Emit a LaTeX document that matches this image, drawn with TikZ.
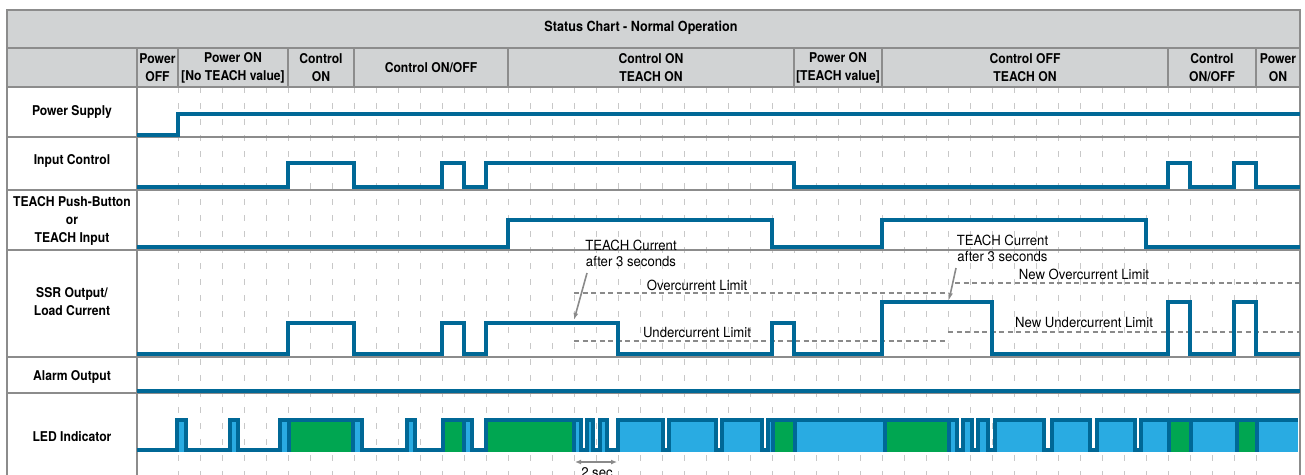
\documentclass[tikz,border=0pt]{standalone}
\usepackage{fontspec}
\setmainfont{TeX Gyre Heros}[FakeStretch=0.9]
\newfontfamily\notefont{TeX Gyre Heros}[FakeStretch=0.94]
\usetikzlibrary{arrows.meta}

\definecolor{sigblue}{RGB}{0,104,150}
\definecolor{ledblue}{RGB}{41,171,226}
\definecolor{ledgreen}{RGB}{0,166,81}
\definecolor{hdgray}{RGB}{209,211,212}
\definecolor{rulegray}{RGB}{140,140,140}
\definecolor{gridgray}{RGB}{200,200,200}
\definecolor{notegray}{RGB}{138,138,138}

\begin{document}
\begin{tikzpicture}[x=1pt,y=-1pt,
    sig/.style={draw=sigblue, line width=4pt},
    rule/.style={draw=rulegray, line width=1.5pt},
    gridline/.style={draw=gridgray, line width=1pt, dash pattern=on 6pt off 10pt},
    limit/.style={draw=notegray, line width=1.8pt, dash pattern=on 5pt off 3.5pt},
    note/.style={font=\notefont\fontsize{14}{15.5}\selectfont, align=center, inner sep=0pt},
    hdr/.style={font=\bfseries\fontsize{13.5}{18}\selectfont, align=center, inner sep=0pt},
    pointer/.style={draw=notegray, line width=1.6pt, -{Latex[length=7pt,width=5pt]}}]
    \useasboundingbox (0,0) rectangle (1305,474);
    \clip (0,0) rectangle (1305,474);

    % Header background
    \fill[hdgray] (7,10) rectangle (1300,87);

    % Time grid, one line per second
    \foreach \k in {0,...,49}
        \draw[gridline] ({178+22*\k},87) -- ({178+22*\k},480);

    % Table rules
    \foreach \y in {48,87,137,190,250,357,393}
        \draw[rule] (7,\y) -- (1300,\y);
    \draw[rule] (7,480) -- (7,10) -- (1300,10) -- (1300,480);
    \draw[rule] (137,48) -- (137,480);
    \foreach \x in {178,288,354,508,794,882,1168,1256}
        \draw[rule] (\x,48) -- (\x,87);

    % Title and phase headings
    \node[hdr, font=\bfseries\fontsize{14}{18}\selectfont] (title) at (641,28) {Status Chart - Normal Operation};
    \foreach \x/\txt [count=\i] in {157.5/{Power\\OFF}, 233/{Power ON\\{}[No TEACH value]},
            321/{Control\\ON}, 431/{Control ON/OFF}, 651/{Control ON\\TEACH ON},
            838/{Power ON\\{}[TEACH value]}, 1025/{Control OFF\\TEACH ON},
            1212/{Control\\ON/OFF}, 1278/{Power\\ON}}
        \node[hdr] (h\i) at (\x,67.5) {\txt};

    % Row labels
    \node[hdr] (lPower) at (72,112) {Power Supply};
    \node[hdr] (lInput) at (72,161) {Input Control};
    \node[hdr] (lTeach) at (72,221) {TEACH Push-Button\\or\\TEACH Input};
    \node[hdr] (lSsr) at (72,302) {SSR Output/\\Load Current};
    \node[hdr] (lAlarm) at (72,377) {Alarm Output};
    \node[hdr] (lLed) at (72,437) {LED Indicator};

    % Current limits
    \draw[limit] (574,293) -- (948,293);
    \draw[limit] (574,341) -- (948,341);
    \draw[limit] (955,283) -- (1300,283);
    \draw[limit] (948,332) -- (1300,332);
    \node[note] (oc) at (697,285) {Overcurrent Limit};
    \node[note] (uc) at (697,332.5) {Undercurrent Limit};
    \node[note] (noc) at (1084,274) {New Overcurrent Limit};
    \node[note] (nuc) at (1084,323) {New Undercurrent Limit};

    % Signals
    \draw[sig] (137,135) -| (178,114) -- (1300,114);
    \draw[sig] (137,187) -| (288,163) -| (354,187) -| (442,163) -| (464,187) -| (486,163)
        -| (794,187) -| (1168,163) -| (1190,187) -| (1234,163) -| (1256,187) -- (1300,187);
    \draw[sig] (137,247) -| (508,220) -| (772,247) -| (882,220) -| (1146,247) -- (1300,247);
    \draw[sig] (137,354) -| (288,323) -| (354,354) -| (442,323) -| (464,354) -| (486,323)
        -| (618,354) -| (772,323) -| (794,354) -| (882,302) -| (992,354) -| (1168,302)
        -| (1190,354) -| (1234,302) -| (1256,354) -- (1300,354);
    \draw[sig] (137,391) -- (1300,391);

    % LED states
    \foreach \a/\b/\c in {177/186/ledblue, 230/238/ledblue, 280/289/ledblue, 289/353/ledgreen,
            353/362/ledblue, 407/415/ledblue, 443/464/ledgreen, 464/472/ledblue,
            486/574/ledgreen, 574/581/ledblue, 587/593/ledblue, 600/607/ledblue,
            618/663/ledblue, 669/716/ledblue, 722/762/ledblue, 768/773/ledblue,
            773/795/ledgreen, 795/885/ledblue, 885/949/ledgreen, 949/957/ledblue,
            963/972/ledblue, 978/988/ledblue, 995/1044/ledblue, 1052/1090/ledblue,
            1097/1135/ledblue, 1141/1169/ledblue, 1169/1191/ledgreen, 1191/1237/ledblue,
            1237/1257/ledgreen, 1257/1298/ledblue}
        \fill[\c] (\a,420) rectangle (\b,452);
    \draw[sig] (137,450) -| (177,420) -| (186,450) -| (230,420) -| (238,450) -| (280,420)
        -| (362,450) -| (407,420) -| (415,450) -| (443,420) -| (472,450) -| (486,420)
        -| (581,450) -| (587,420) -| (593,450) -| (600,420) -| (607,450) -| (618,420)
        -| (663,450) -| (669,420) -| (716,450) -| (722,420) -| (762,450) -| (768,420)
        -| (957,450) -| (963,420) -| (972,450) -| (978,420) -| (988,450) -| (995,420)
        -| (1044,450) -| (1052,420) -| (1090,450) -| (1097,420) -| (1135,450) -| (1141,420)
        -- (1298,420);
    \foreach \x in {289,353,464,574,773,795,885,949,1169,1191,1237,1257}
        \draw[sig] (\x,420) -- (\x,452);

    % TEACH notes
    \node[note] (tc1) at (631,253.5) {TEACH Current\\after 3 seconds};
    \coordinate (tail1) at (587,273);
    \coordinate (tip1) at (574,320);
    \draw[pointer] (tail1) -- (tip1);
    \node[note] (tc2) at (1002.5,248.5) {TEACH Current\\after 3 seconds};
    \coordinate (tail2) at (956,268);
    \coordinate (tip2) at (949,300);
    \draw[pointer] (tail2) -- (tip2);

    % 2 sec span
    \coordinate (s0) at (575,462);
    \coordinate (s1) at (617,462);
    \draw[pointer, {Latex[length=6pt,width=5pt]}-{Latex[length=6pt,width=5pt]}] (s0) -- (s1);
    \node[note] (twosec) at (597,473) {2 sec};
\end{tikzpicture}
\end{document}
